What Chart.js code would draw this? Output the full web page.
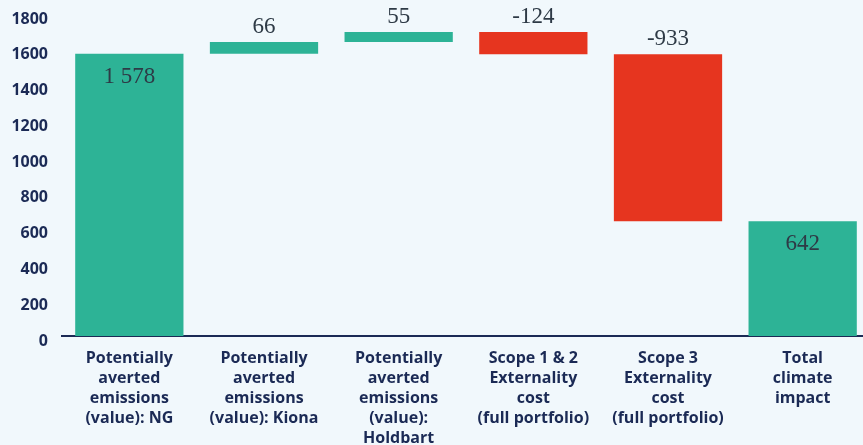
<!DOCTYPE html>
<html>
<head>
<meta charset="utf-8">
<script src="https://cdn.jsdelivr.net/npm/chart.js@4.4.1/dist/chart.umd.min.js"></script>
<style>
  html, body { margin: 0; padding: 0; background: #f1f8fc; overflow: hidden; }
  #wrap { position: relative; width: 870px; height: 445px; }
</style>
</head>
<body>
<div id="wrap"><canvas id="chart"></canvas></div>
<script>
// Waterfall: climate impact build-up
const categories = [
  ["Potentially", "averted", "emissions", "(value): NG"],
  ["Potentially", "averted", "emissions", "(value): Kiona"],
  ["Potentially", "averted", "emissions", "(value):", "Holdbart"],
  ["Scope 1 & 2", "Externality", "cost", "(full portfolio)"],
  ["Scope 3", "Externality", "cost", "(full portfolio)"],
  ["Total", "climate", "impact"]
];
const steps = [1578, 66, 55, -124, -933];
const totalImpact = 642;
const yTickMin = 0;
const yTickMax = 1800;
const yTickStep = 200;

const TEAL = '#2db396';
const RED = '#e6351f';
const NAVY = '#1b2a55';

// floating ranges: each step starts where the previous one ended
let running = 0;
const ranges = steps.map(d => { const r = [running, running + d]; running += d; return r; });
ranges.push([0, totalImpact]);
const shown = steps.concat([totalImpact]);
const colors = shown.map(v => v < 0 ? RED : TEAL);

function fmt(v) {
  return String(v).replace(/\B(?=(\d{3})+(?!\d))/g, ' ');
}

const valueLabels = {
  id: 'valueLabels',
  afterDatasetsDraw(chart) {
    const ctx = chart.ctx;
    const meta = chart.getDatasetMeta(0);
    ctx.save();
    ctx.font = '23px "Liberation Serif", "DejaVu Serif", serif';
    ctx.fillStyle = '#2e3a46';
    ctx.textAlign = 'center';
    ctx.textBaseline = 'middle';
    meta.data.forEach((bar, i) => {
      const top = Math.min(bar.y, bar.base);
      const fromZero = ranges[i][0] === 0;
      const y = fromZero ? top + 23 : top - 15;
      ctx.fillText(fmt(shown[i]), bar.x, y);
    });
    ctx.restore();
  }
};

new Chart(document.getElementById('chart'), {
  type: 'bar',
  data: {
    labels: categories,
    datasets: [{
      data: ranges,
      backgroundColor: colors,
      borderWidth: 0,
      barPercentage: 0.804,
      categoryPercentage: 1.0
    }]
  },
  options: {
    responsive: true,
    maintainAspectRatio: false,
    animation: false,
    layout: { padding: { top: 14, left: 0, right: 0, bottom: 0 } },
    plugins: {
      legend: { display: false },
      tooltip: { enabled: false }
    },
    scales: {
      x: {
        offset: true,
        grid: { display: false, drawTicks: false },
        border: { display: true, color: NAVY, width: 2 },
        ticks: {
          color: NAVY,
          font: { family: '"Open Sans", "Noto Sans", sans-serif', size: 16, weight: '700', lineHeight: 1.25 },
          padding: 12,
          maxRotation: 0,
          autoSkip: false
        },
        afterFit(scale) { scale.height = 109; scale.paddingLeft = 0; scale.paddingRight = 0; }
      },
      y: {
        min: yTickMin,
        max: yTickMax,
        grid: { display: false, drawTicks: false },
        border: { display: false },
        ticks: {
          stepSize: yTickStep,
          color: NAVY,
          font: { family: '"Open Sans", "Noto Sans", sans-serif', size: 16, weight: '700' },
          padding: 14,
          labelOffset: 5,
          callback: v => String(v)
        },
        afterFit(scale) { scale.width = 62; scale.paddingTop = 0; scale.paddingBottom = 0; }
      }
    }
  },
  plugins: [valueLabels]
});
</script>
</body>
</html>
